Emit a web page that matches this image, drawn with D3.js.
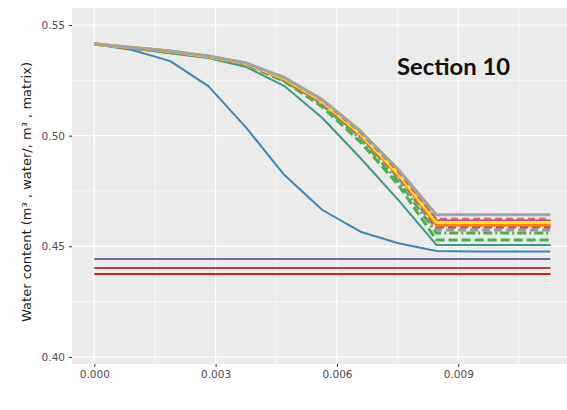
<!DOCTYPE html>
<html><head><meta charset="utf-8">
<script src="https://cdn.jsdelivr.net/npm/d3@7"></script>
<style>body{margin:0;background:#fff}svg{display:block}</style>
</head><body>
<svg id="chart" width="567" height="410"></svg>
<script>
// ---- data ----
const times = [0, 0.00094, 0.00188, 0.00282, 0.00376, 0.0047, 0.00564, 0.00658, 0.00752, 0.00846, 0.0094, 0.01034, 0.01128];
const xTicks = [0, 0.003, 0.006, 0.009];
const xTickLabels = ["0.000", "0.003", "0.006", "0.009"];
const yTicks = [0.40, 0.45, 0.50, 0.55];
const yTickLabels = ["0.40", "0.45", "0.50", "0.55"];

const grayTop      = [0.5414,0.5398,0.5383,0.5360,0.5328,0.5263,0.5163,0.5021,0.4847,0.4642,0.4642,0.4642,0.4642];
const pinkDash     = [0.5414,0.5398,0.5382,0.5359,0.5327,0.5261,0.5159,0.5014,0.4836,0.4623,0.4623,0.4623,0.4623];
const magenta      = [0.5414,0.5398,0.5382,0.5359,0.5327,0.5260,0.5157,0.5011,0.4831,0.4615,0.4615,0.4615,0.4615];
const yellow       = [0.5414,0.5398,0.5382,0.5358,0.5326,0.5258,0.5154,0.5008,0.4827,0.4608,0.4608,0.4608,0.4608];
const orange       = [0.5414,0.5397,0.5381,0.5358,0.5326,0.5256,0.5152,0.5003,0.4822,0.4596,0.4596,0.4596,0.4596];
const purpleDash   = [0.5414,0.5397,0.5380,0.5357,0.5325,0.5254,0.5148,0.4999,0.4818,0.4587,0.4587,0.4587,0.4587];
const grayDash     = [0.5414,0.5397,0.5379,0.5357,0.5325,0.5252,0.5143,0.4994,0.4809,0.4574,0.4574,0.4574,0.4574];
const greenDashDot = [0.5414,0.5396,0.5378,0.5356,0.5324,0.5249,0.5139,0.4985,0.4795,0.4560,0.4560,0.4560,0.4560];
const greenDash    = [0.5414,0.5396,0.5376,0.5355,0.5322,0.5245,0.5130,0.4971,0.4777,0.4529,0.4529,0.4529,0.4529];
const teal         = [0.5414,0.5394,0.5373,0.5351,0.5310,0.5224,0.5080,0.4899,0.4709,0.4506,0.4506,0.4506,0.4506];
const blue         = [0.5414,0.5387,0.5337,0.5224,0.5035,0.4822,0.4664,0.4566,0.4514,0.4479,0.4477,0.4476,0.4476];
const slate        = [0.4443,0.4443,0.4443,0.4443,0.4443,0.4443,0.4443,0.4443,0.4443,0.4443,0.4443,0.4443,0.4443];
const darkRed      = [0.4402,0.4402,0.4402,0.4402,0.4402,0.4402,0.4402,0.4402,0.4402,0.4402,0.4402,0.4402,0.4402];
const red          = [0.4375,0.4375,0.4375,0.4375,0.4375,0.4375,0.4375,0.4375,0.4375,0.4375,0.4375,0.4375,0.4375];

const series = [
  {values: red,          color: "#E41A1C", width: 2,   dash: null},
  {values: darkRed,      color: "#C0394B", width: 2,   dash: null},
  {values: slate,        color: "#6E6E9E", width: 2,   dash: null},
  {values: blue,         color: "#3A87B8", width: 2,   dash: null},
  {values: teal,         color: "#3A9A84", width: 2,   dash: null},
  {values: greenDash,    color: "#4DAF4A", width: 3,   dash: "9,4"},
  {values: greenDashDot, color: "#4DAF4A", width: 3,   dash: "9,3,2,3"},
  {values: grayDash,     color: "#999999", width: 3,   dash: "8,4"},
  {values: purpleDash,   color: "#984EA3", width: 3,   dash: "8,4"},
  {values: magenta,      color: "#C2477C", width: 2.5, dash: null},
  {values: orange,       color: "#FF7F00", width: 3.5, dash: null},
  {values: yellow,       color: "#FFE81A", width: 3,   dash: null},
  {values: pinkDash,     color: "#D9607F", width: 2.5, dash: "7,4"},
  {values: grayTop,      color: "#A3A3A3", width: 3,   dash: null}
];

// ---- layout ----
const svg = d3.select("#chart");
const panel = {left: 72, right: 567, top: 8, bottom: 364};
const x = d3.scaleLinear().domain([-0.000564, 0.011844]).range([71.5, 573.3]);
const y = d3.scaleLinear().domain([0.3968, 0.5577]).range([panel.bottom, panel.top]);

svg.append("rect").attr("x", panel.left).attr("y", panel.top)
  .attr("width", panel.right - panel.left).attr("height", panel.bottom - panel.top)
  .attr("fill", "#EBEBEB");

svg.append("clipPath").attr("id", "clip").append("rect")
  .attr("x", panel.left).attr("y", panel.top)
  .attr("width", panel.right - panel.left).attr("height", panel.bottom - panel.top);

const grid = svg.append("g").attr("clip-path", "url(#clip)");
const xMinor = [0.0015, 0.0045, 0.0075, 0.0105];
const yMinor = [0.425, 0.475, 0.525];
grid.selectAll(".xm").data(xMinor).join("line")
  .attr("x1", d => x(d)).attr("x2", d => x(d)).attr("y1", panel.top).attr("y2", panel.bottom)
  .attr("stroke", "#fff").attr("stroke-width", 0.6);
grid.selectAll(".ym").data(yMinor).join("line")
  .attr("y1", d => y(d)).attr("y2", d => y(d)).attr("x1", panel.left).attr("x2", panel.right)
  .attr("stroke", "#fff").attr("stroke-width", 0.6);
grid.selectAll(".xM").data(xTicks).join("line")
  .attr("x1", d => x(d)).attr("x2", d => x(d)).attr("y1", panel.top).attr("y2", panel.bottom)
  .attr("stroke", "#fff").attr("stroke-width", 1.2);
grid.selectAll(".yM").data(yTicks).join("line")
  .attr("y1", d => y(d)).attr("y2", d => y(d)).attr("x1", panel.left).attr("x2", panel.right)
  .attr("stroke", "#fff").attr("stroke-width", 1.2);

// ---- lines ----
const line = d3.line().x((d, i) => x(times[i])).y(d => y(d));
const lines = svg.append("g").attr("clip-path", "url(#clip)");
series.forEach(s => {
  lines.append("path").attr("d", line(s.values))
    .attr("fill", "none").attr("stroke", s.color).attr("stroke-width", s.width)
    .attr("stroke-dasharray", s.dash).attr("stroke-linejoin", "round");
});

// ---- axes ----
const xAxis = d3.axisBottom(x).tickValues(xTicks).tickSize(3).tickPadding(4)
  .tickFormat((d, i) => xTickLabels[i]);
const gx = svg.append("g").attr("transform", `translate(0,${panel.bottom})`).call(xAxis);
gx.select(".domain").remove();
gx.selectAll("line").attr("stroke", "#333");
gx.selectAll("text").attr("fill", "#4D4D4D").style("font-family", "DejaVu Sans").style("font-size", "10.5px");

const yAxis = d3.axisLeft(y).tickValues(yTicks).tickSize(3).tickPadding(4)
  .tickFormat((d, i) => yTickLabels[i]);
const gy = svg.append("g").attr("transform", `translate(${panel.left},0)`).call(yAxis);
gy.select(".domain").remove();
gy.selectAll("line").attr("stroke", "#333");
gy.selectAll("text").attr("fill", "#4D4D4D").style("font-family", "DejaVu Sans").style("font-size", "10.5px");

// ---- titles ----
svg.append("text")
  .attr("transform", "translate(31,192) rotate(-90)")
  .attr("text-anchor", "middle")
  .style("font-family", "DejaVu Sans").style("font-size", "13px").attr("fill", "#1a1a1a")
  .attr("textLength", 260).attr("lengthAdjust", "spacingAndGlyphs")
  .text("Water content (m³ , water/, m³ , matrix)");

svg.append("text")
  .attr("x", 397).attr("y", 75)
  .style("font-family", "Lato").style("font-weight", "bold").style("font-size", "23px")
  .attr("fill", "#111")
  .attr("textLength", 113).attr("lengthAdjust", "spacingAndGlyphs")
  .text("Section 10");
</script>
</body></html>
